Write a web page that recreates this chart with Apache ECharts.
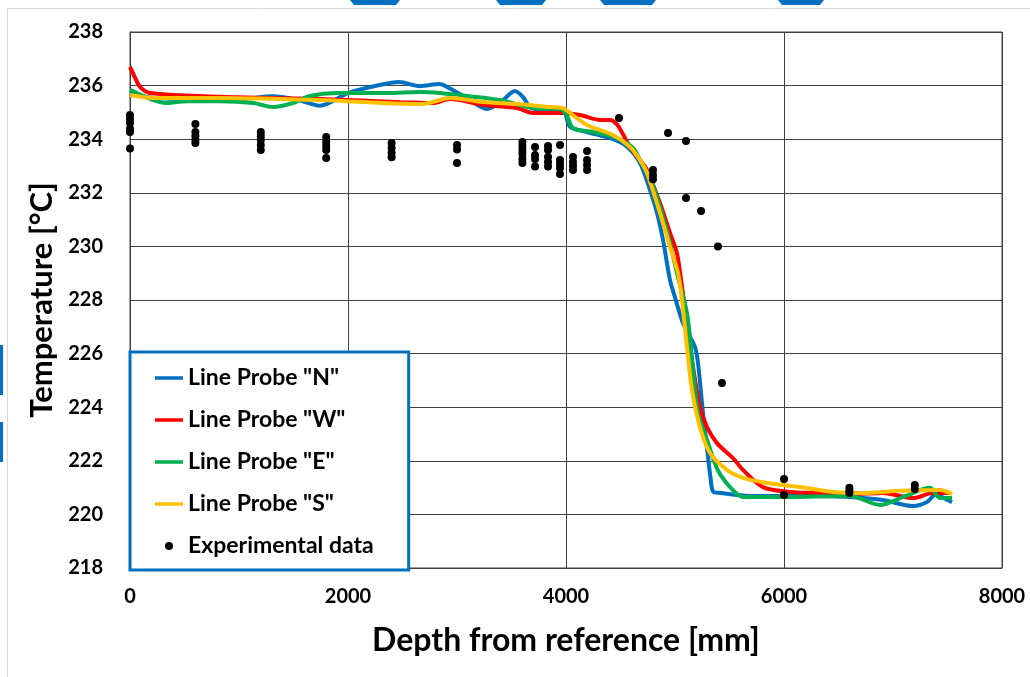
<!DOCTYPE html>
<html>
<head>
<meta charset="utf-8">
<script src="https://cdn.jsdelivr.net/npm/echarts@6/dist/echarts.min.js"></script>
<style>
  html, body { margin: 0; padding: 0; background: #ffffff; }
  #chart { width: 1030px; height: 677px; }
</style>
</head>
<body>
<div id="chart"></div>
<script>
// Axis ranges and tick spacing
const depthTicks = { min: 0, max: 8000, interval: 2000 };
const tempTicks = { min: 218, max: 238, interval: 2 };

// Simulated line probes: [depth mm, temperature °C]
const probeN = [
  [0,235.7],[200,235.55],[600,235.5],[1000,235.5],[1310,235.6],[1550,235.45],[1740,235.25],
  [2000,235.72],[2290,236.02],[2470,236.13],[2660,235.98],[2840,236.06],[2930,235.9],
  [3090,235.54],[3275,235.13],[3394,235.35],[3532,235.8],[3606,235.57],[3670,235.2],
  [3790,235.09],[3970,235.09],[4037,234.46],[4193,234.27],[4431,234.0],[4560,233.72],
  [4679,233.11],[4771,232.1],[4835,231.25],[4890,230.24],[4954,228.75],[5000,228.1],
  [5073,227.14],[5183,226.25],[5211,225.65],[5257,223.78],[5303,222.14],[5325,221.4],
  [5350,220.85],[5413,220.8],[5688,220.69],[5991,220.69],[6303,220.69],[6606,220.65],
  [6908,220.54],[7183,220.31],[7312,220.46],[7404,220.8],[7450,220.65],[7541,220.46]
];
const probeW = [
  [0,236.7],[46,236.3],[92,235.95],[183,235.72],[826,235.58],[1743,235.5],[2480,235.38],
  [2780,235.35],[2935,235.5],[3240,235.28],[3550,235.16],[3697,234.98],[3970,234.98],
  [4128,234.9],[4312,234.72],[4404,234.72],[4468,234.55],[4520,234.2],[4587,233.71],
  [4679,233.22],[4743,232.85],[4862,231.62],[4954,230.5],[5018,229.75],[5064,228.5],
  [5119,226.88],[5160,225.65],[5229,224.0],[5294,223.26],[5385,222.66],[5532,222.1],
  [5624,221.66],[5807,221.02],[6055,220.84],[6303,220.8],[6606,220.76],[6908,220.8],
  [7183,220.61],[7367,220.8],[7523,220.8]
];
const probeE = [
  [0,235.84],[214,235.46],[336,235.35],[520,235.42],[826,235.42],[1131,235.35],[1312,235.2],
  [1495,235.35],[1651,235.61],[1896,235.72],[2355,235.72],[2660,235.76],[2844,235.72],
  [3092,235.61],[3394,235.46],[3697,235.16],[3945,235.13],[4006,234.9],[4064,234.42],
  [4248,234.27],[4468,234.04],[4615,233.67],[4679,233.22],[4771,232.55],[4862,231.47],
  [4954,230.13],[5018,229.0],[5110,227.51],[5160,225.65],[5211,223.78],[5294,222.78],
  [5367,221.9],[5413,221.5],[5505,221.02],[5624,220.65],[5991,220.65],[6606,220.69],
  [6881,220.35],[7092,220.65],[7339,220.99],[7431,220.61],[7541,220.61]
];
const probeS = [
  [0,235.65],[214,235.54],[826,235.54],[1743,235.46],[2660,235.31],[2780,235.39],
  [2935,235.54],[3240,235.39],[3550,235.31],[3853,235.2],[3970,235.16],[4064,234.9],
  [4193,234.53],[4431,234.16],[4587,233.71],[4679,233.22],[4743,232.74],[4862,231.25],
  [4954,229.98],[5028,229.0],[5064,228.0],[5110,226.25],[5156,224.64],[5229,223.26],
  [5321,222.29],[5477,221.66],[5624,221.36],[5844,221.17],[6147,221.02],[6450,220.84],
  [6761,220.8],[7064,220.88],[7431,220.91],[7541,220.76]
];

// Measured temperatures: [depth mm, temperature °C]
const experimental = [
  [0,234.9],[0,234.75],[0,234.6],[0,234.38],[0,234.27],[0,233.65],
  [600,234.57],[600,234.27],[600,234.12],[600,233.97],[600,233.86],
  [1200,234.27],[1200,234.12],[1200,233.97],[1200,233.78],[1200,233.6],
  [1800,234.08],[1800,233.9],[1800,233.75],[1800,233.6],[1800,233.3],
  [2400,233.86],[2400,233.67],[2400,233.49],[2400,233.33],
  [3000,233.78],[3000,233.62],[3000,233.11],
  [3600,233.9],[3600,233.75],[3600,233.6],[3600,233.45],[3600,233.26],[3600,233.11],
  [3716,233.71],[3716,233.41],[3716,233.26],[3716,232.98],
  [3835,233.75],[3835,233.6],[3835,233.34],[3835,233.15],[3835,232.98],
  [3945,233.78],[3945,233.22],[3945,233.07],[3945,232.93],[3945,232.7],
  [4064,233.34],[4064,233.15],[4064,233.0],[4064,232.85],
  [4193,233.56],[4193,233.22],[4193,233.04],[4193,232.85],
  [4486,234.79],[4936,234.23],[5101,233.93],
  [4798,232.85],[4798,232.66],[4798,232.51],
  [5101,231.81],[5239,231.32],[5394,230.0],[5431,224.9],
  [6000,221.32],[6000,220.72],
  [6600,220.99],[6600,220.88],[6600,220.8],
  [7200,221.1],[7200,220.95]
];

const seriesNames = ['Line Probe "N"', 'Line Probe "W"', 'Line Probe "E"', 'Line Probe "S"', 'Experimental data'];
const seriesColors = ['#0070C0', '#FF0000', '#00B050', '#FFC000', '#000000'];
const probeData = [probeN, probeW, probeE, probeS];

const font = 'Lato, "Open Sans", sans-serif';
// legend swatch: a short thick bar for each probe, a dot for the measurements
const barIcon = 'path://M0,0L28,0L28,3.5L0,3.5Z';

const chart = echarts.init(document.getElementById('chart'), null, { renderer: 'canvas' });

const lineSeries = probeData.map((d, i) => ({
  name: seriesNames[i],
  type: 'line',
  data: d,
  smooth: 0.3,
  symbol: 'none',
  lineStyle: { color: seriesColors[i], width: 4 },
  itemStyle: { color: seriesColors[i] },
  z: 3
}));

chart.setOption({
  animation: false,
  backgroundColor: '#ffffff',
  graphic: [
    // slide panel frame and edge accents
    { type: 'rect', shape: { x: 7.5, y: 8.5, width: 1040, height: 700 }, style: { fill: 'none', stroke: '#d9d9d9', lineWidth: 1 }, z: -10 },
    { type: 'polygon', shape: { points: [[350,0],[400,0],[396,5],[354,5]] }, style: { fill: '#0070C0' } },
    { type: 'polygon', shape: { points: [[496,0],[546,0],[542,5],[500,5]] }, style: { fill: '#0070C0' } },
    { type: 'polygon', shape: { points: [[600,0],[656,0],[652,5],[604,5]] }, style: { fill: '#0070C0' } },
    { type: 'polygon', shape: { points: [[778,0],[824,0],[820,5],[782,5]] }, style: { fill: '#0070C0' } },
    { type: 'rect', shape: { x: 0, y: 345, width: 3, height: 50 }, style: { fill: '#0070C0' } },
    { type: 'rect', shape: { x: 0, y: 422, width: 3, height: 40 }, style: { fill: '#0070C0' } }
  ],
  grid: {
    left: 130, right: 28, top: 32, bottom: 109,
    show: true, borderColor: '#404040', borderWidth: 1
  },
  legend: {
    orient: 'vertical',
    left: 130, top: 352,
    data: seriesNames.map((n, i) => ({ name: n, icon: i < 4 ? barIcon : 'circle' })),
    itemWidth: 28, itemHeight: 8, itemGap: 18,
    padding: [14, 35, 12, 25],
    borderColor: '#0070C0', borderWidth: 3,
    backgroundColor: '#ffffff',
    textStyle: { fontFamily: font, fontWeight: 'bold', fontSize: 23, color: '#000', lineHeight: 24 },
    z: 10
  },
  xAxis: {
    type: 'value',
    min: depthTicks.min, max: depthTicks.max, interval: depthTicks.interval,
    name: 'Depth from reference [mm]',
    nameLocation: 'middle', nameGap: 57,
    nameTextStyle: { fontFamily: font, fontWeight: 'bold', fontSize: 32, color: '#000' },
    axisLine: { show: true, lineStyle: { color: '#404040', width: 1 } },
    axisTick: { show: false },
    axisLabel: { margin: 19, fontFamily: font, fontWeight: 'bold', fontSize: 20, color: '#000', formatter: v => String(v) },
    splitLine: { show: true, lineStyle: { color: '#404040', width: 1 } }
  },
  yAxis: {
    type: 'value',
    min: tempTicks.min, max: tempTicks.max, interval: tempTicks.interval,
    name: 'Temperature [°C]',
    nameLocation: 'middle', nameGap: 70,
    nameTextStyle: { fontFamily: font, fontWeight: 'bold', fontSize: 31, color: '#000' },
    axisLine: { show: true, lineStyle: { color: '#404040', width: 1 } },
    axisTick: { show: false },
    axisLabel: { margin: 27, fontFamily: font, fontWeight: 'bold', fontSize: 20, color: '#000', formatter: v => String(v) },
    splitLine: { show: true, lineStyle: { color: '#404040', width: 1 } }
  },
  series: lineSeries.concat([{
    name: seriesNames[4],
    type: 'scatter',
    data: experimental,
    symbol: 'circle',
    symbolSize: 8,
    itemStyle: { color: '#000000', opacity: 1 },
    z: 4
  }])
});
</script>
</body>
</html>
